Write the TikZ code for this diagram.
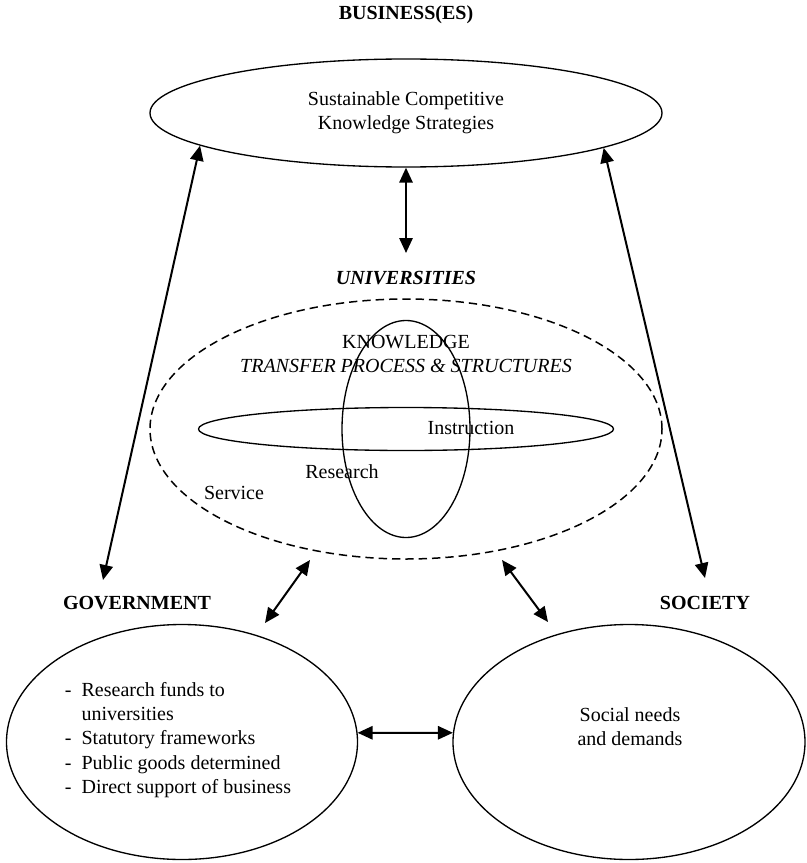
\documentclass[tikz,border=0pt,12pt]{standalone}
\usepackage{fontspec}
\setmainfont{Liberation Serif}
\usetikzlibrary{arrows.meta,shapes.geometric}
\newcommand\govitem{\makebox[10pt][l]{-}}
\begin{document}
\begin{tikzpicture}[x=0.6pt,y=-0.6pt,
  oval/.style={draw,ellipse,line width=0.8pt,inner sep=0pt,align=center},
  link/.style={{Triangle[length=9pt,width=8pt]}-{Triangle[length=9pt,width=8pt]},line width=1.2pt},
  actor/.style={font=\bfseries}]
\useasboundingbox (0,0) rectangle (806,863);
\node[actor] (business) at (406,15) {BUSINESS(ES)};
\node[oval,minimum width=307.2pt,minimum height=64.8pt] (strategies) at (406,113) {Sustainable Competitive\\Knowledge Strategies};
\node[font=\bfseries\itshape] (universities) at (406,278) {UNIVERSITIES};
\node[oval,dash pattern=on 5pt off 3pt,line width=0.9pt,minimum width=307.2pt,minimum height=156pt] (transfer) at (406,429) {};
\node[oval,minimum width=249pt,minimum height=25.8pt] (instruction) at (406,429) {};
\node[oval,minimum width=76.8pt,minimum height=130.2pt] (research) at (406,429) {};
\node[align=center] (knowledge) at (406,354) {KNOWLEDGE\\\textit{TRANSFER PROCESS \& STRUCTURES}};
\node (instrlabel) at (471,428) {Instruction};
\node (reslabel) at (342,472) {Research};
\node (servlabel) at (234,493) {Service};
\node[actor] (govlabel) at (137,603) {GOVERNMENT};
\node[actor] (soclabel) at (705,603) {SOCIETY};
\node[oval,minimum width=210.6pt,minimum height=141pt] (government) at (182,742) {};
\node[oval,minimum width=211.2pt,minimum height=141pt] (society) at (629,742) {};
\node[align=left] (govtext) at (178,740) {\govitem Research funds to\\\hspace*{10pt}universities\\\govitem Statutory frameworks\\\govitem Public goods determined\\\govitem Direct support of business};
\node[align=center] (soctext) at (630,727) {Social needs\\and demands};
\coordinate (govtip) at (103,580);
\coordinate (soctip) at (705,578);
\coordinate (unitip) at (406,253);
\coordinate (unigov) at (310,560);
\coordinate (govuni) at (265,623);
\coordinate (unisoc) at (502,560);
\coordinate (socuni) at (548,622);
\draw[link] (strategies.189) -- (govtip);
\draw[link] (strategies.350) -- (soctip);
\draw[link] (strategies.south) -- (unitip);
\draw[link] (unigov) -- (govuni);
\draw[link] (unisoc) -- (socuni);
\draw[link] (government.3) -- (society.177);
\end{tikzpicture}
\end{document}
